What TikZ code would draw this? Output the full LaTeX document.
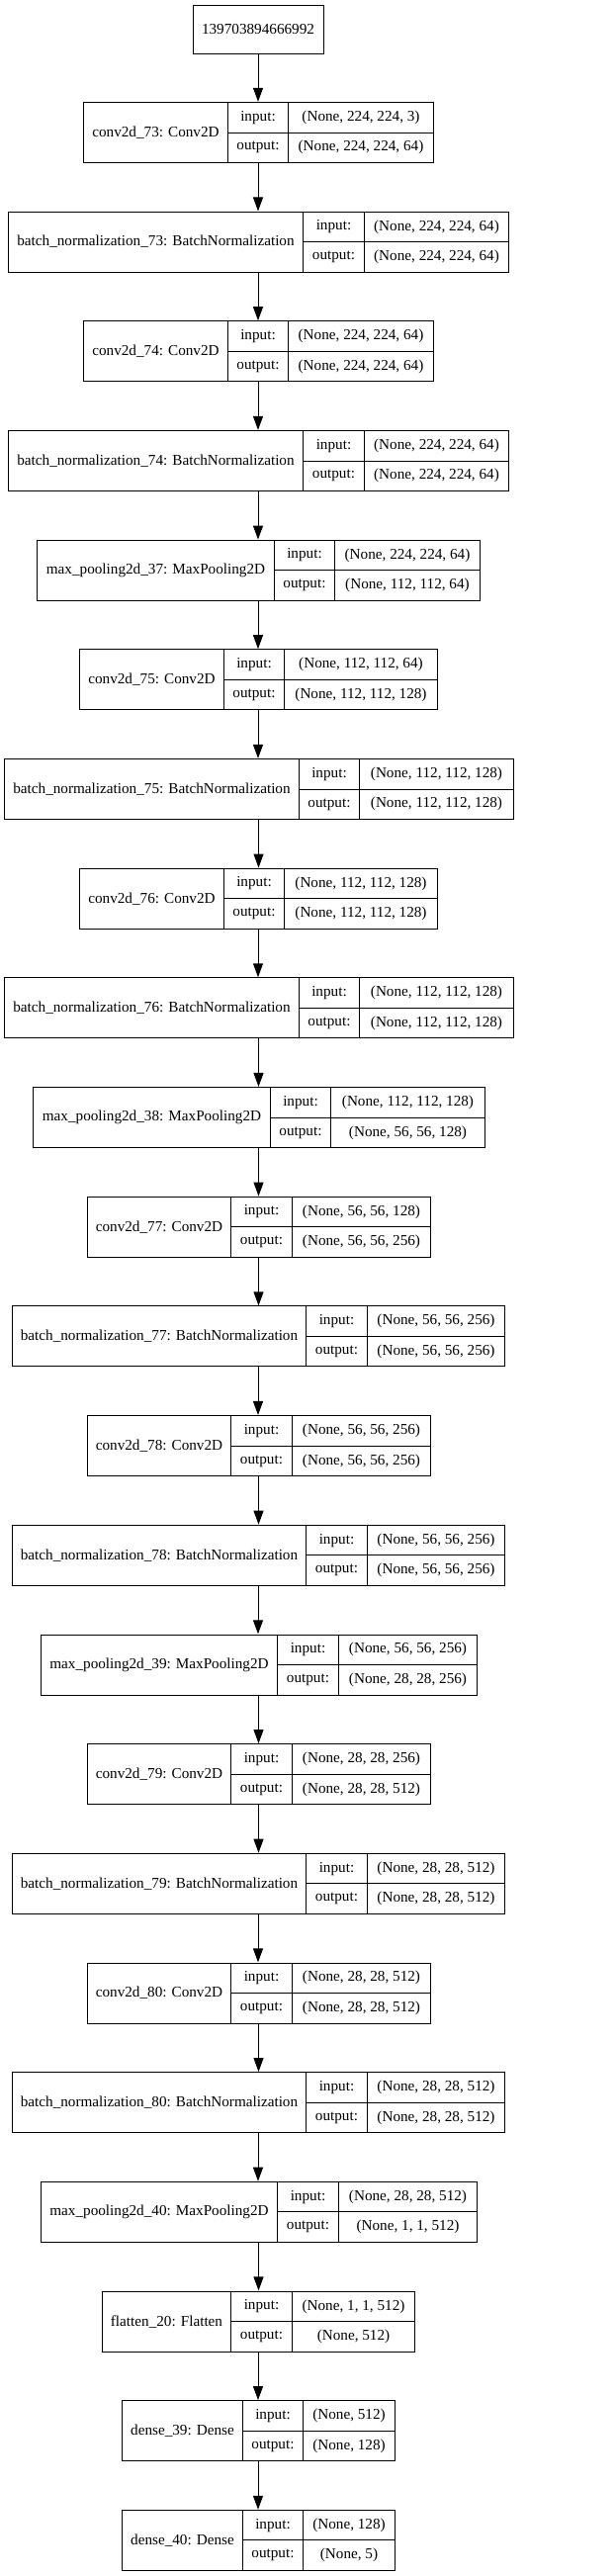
\documentclass[tikz,border=0pt]{standalone}
\usepackage{fontspec}
\setmainfont{Liberation Serif}
\usepackage{tikz}
\usetikzlibrary{arrows.meta}
\tikzset{>={Triangle[length=14pt,width=10pt]}}
\tikzset{
  cell/.style={draw, line width=1pt, inner sep=0pt, minimum height=30.5pt, font=\cellfont},
  whole/.style={inner sep=0pt, minimum height=61pt},
  arr/.style={->, line width=1pt}
}
\newcommand{\cellfont}{\fontsize{15.2}{18}\selectfont}
% one keras layer: name, row, four cell edges, label, input shape, output shape
\newcommand{\layer}[9]{%
  \pgfmathsetmacro{\ltop}{103+(#2-1)*110.68}
  \node[whole, minimum width={#6-#3}] (#1) at ({(#3+#6)/2},{\ltop+30.5}) {};
  \node[cell, minimum width={#4-#3}, minimum height=61pt, anchor=north west] (#1-lbl) at (#3,\ltop) {#7};
  \node[cell, minimum width={#5-#4}, anchor=north west] (#1-in) at (#4,\ltop) {input:};
  \node[cell, minimum width={#5-#4}, anchor=north west] (#1-out) at (#4,{\ltop+30.5}) {output:};
  \node[cell, minimum width={#6-#5}, anchor=north west] (#1-ins) at (#5,\ltop) {#8};
  \node[cell, minimum width={#6-#5}, anchor=north west] (#1-outs) at (#5,{\ltop+30.5}) {#9};
}

\begin{document}
\begin{tikzpicture}[x=1pt, y=-1pt]
  \useasboundingbox (0,0) rectangle (623,2605);
  % nodes
  \node[cell, minimum width=132pt, minimum height=49pt] (src) at (261,29.5) {139703894666992};
  \layer{conv73}{1}{84}{230}{291}{438}{conv2d\_73: Conv2D}{(None, 224, 224, 3)}{(None, 224, 224, 64)}
  \layer{bn73}{2}{8}{306}{368}{514}{batch\_normalization\_73: BatchNormalization}{(None, 224, 224, 64)}{(None, 224, 224, 64)}
  \layer{conv74}{3}{84}{230}{291}{438}{conv2d\_74: Conv2D}{(None, 224, 224, 64)}{(None, 224, 224, 64)}
  \layer{bn74}{4}{8}{306}{368}{514}{batch\_normalization\_74: BatchNormalization}{(None, 224, 224, 64)}{(None, 224, 224, 64)}
  \layer{pool37}{5}{37}{277}{338}{485}{max\_pooling2d\_37: MaxPooling2D}{(None, 224, 224, 64)}{(None, 112, 112, 64)}
  \layer{conv75}{6}{80}{226}{287}{442}{conv2d\_75: Conv2D}{(None, 112, 112, 64)}{(None, 112, 112, 128)}
  \layer{bn75}{7}{4}{302}{363}{519}{batch\_normalization\_75: BatchNormalization}{(None, 112, 112, 128)}{(None, 112, 112, 128)}
  \layer{conv76}{8}{80}{226}{287}{442}{conv2d\_76: Conv2D}{(None, 112, 112, 128)}{(None, 112, 112, 128)}
  \layer{bn76}{9}{4}{302}{363}{519}{batch\_normalization\_76: BatchNormalization}{(None, 112, 112, 128)}{(None, 112, 112, 128)}
  \layer{pool38}{10}{33}{273}{334}{490}{max\_pooling2d\_38: MaxPooling2D}{(None, 112, 112, 128)}{(None, 56, 56, 128)}
  \layer{conv77}{11}{88}{233}{295}{435}{conv2d\_77: Conv2D}{(None, 56, 56, 128)}{(None, 56, 56, 256)}
  \layer{bn77}{12}{12}{309}{371}{510}{batch\_normalization\_77: BatchNormalization}{(None, 56, 56, 256)}{(None, 56, 56, 256)}
  \layer{conv78}{13}{88}{233}{295}{435}{conv2d\_78: Conv2D}{(None, 56, 56, 256)}{(None, 56, 56, 256)}
  \layer{bn78}{14}{12}{309}{371}{510}{batch\_normalization\_78: BatchNormalization}{(None, 56, 56, 256)}{(None, 56, 56, 256)}
  \layer{pool39}{15}{41}{280}{342}{482}{max\_pooling2d\_39: MaxPooling2D}{(None, 56, 56, 256)}{(None, 28, 28, 256)}
  \layer{conv79}{16}{88}{233}{295}{435}{conv2d\_79: Conv2D}{(None, 28, 28, 256)}{(None, 28, 28, 512)}
  \layer{bn79}{17}{12}{309}{371}{510}{batch\_normalization\_79: BatchNormalization}{(None, 28, 28, 512)}{(None, 28, 28, 512)}
  \layer{conv80}{18}{88}{233}{295}{435}{conv2d\_80: Conv2D}{(None, 28, 28, 512)}{(None, 28, 28, 512)}
  \layer{bn80}{19}{12}{309}{371}{510}{batch\_normalization\_80: BatchNormalization}{(None, 28, 28, 512)}{(None, 28, 28, 512)}
  \layer{pool40}{20}{41}{280}{342}{482}{max\_pooling2d\_40: MaxPooling2D}{(None, 28, 28, 512)}{(None, 1, 1, 512)}
  \layer{flat20}{21}{103}{233}{295}{419}{flatten\_20: Flatten}{(None, 1, 1, 512)}{(None, 512)}
  \layer{dense39}{22}{123}{245}{306}{399}{dense\_39: Dense}{(None, 512)}{(None, 128)}
  \layer{dense40}{23}{123}{245}{306}{399}{dense\_40: Dense}{(None, 128)}{(None, 5)}
  % arrows
  \draw[arr] (src.south) -- (src.south |- conv73.north);
  \draw[arr] (conv73.south) -- (conv73.south |- bn73.north);
  \draw[arr] (bn73.south) -- (bn73.south |- conv74.north);
  \draw[arr] (conv74.south) -- (conv74.south |- bn74.north);
  \draw[arr] (bn74.south) -- (bn74.south |- pool37.north);
  \draw[arr] (pool37.south) -- (pool37.south |- conv75.north);
  \draw[arr] (conv75.south) -- (conv75.south |- bn75.north);
  \draw[arr] (bn75.south) -- (bn75.south |- conv76.north);
  \draw[arr] (conv76.south) -- (conv76.south |- bn76.north);
  \draw[arr] (bn76.south) -- (bn76.south |- pool38.north);
  \draw[arr] (pool38.south) -- (pool38.south |- conv77.north);
  \draw[arr] (conv77.south) -- (conv77.south |- bn77.north);
  \draw[arr] (bn77.south) -- (bn77.south |- conv78.north);
  \draw[arr] (conv78.south) -- (conv78.south |- bn78.north);
  \draw[arr] (bn78.south) -- (bn78.south |- pool39.north);
  \draw[arr] (pool39.south) -- (pool39.south |- conv79.north);
  \draw[arr] (conv79.south) -- (conv79.south |- bn79.north);
  \draw[arr] (bn79.south) -- (bn79.south |- conv80.north);
  \draw[arr] (conv80.south) -- (conv80.south |- bn80.north);
  \draw[arr] (bn80.south) -- (bn80.south |- pool40.north);
  \draw[arr] (pool40.south) -- (pool40.south |- flat20.north);
  \draw[arr] (flat20.south) -- (flat20.south |- dense39.north);
  \draw[arr] (dense39.south) -- (dense39.south |- dense40.north);
\end{tikzpicture}
\end{document}
